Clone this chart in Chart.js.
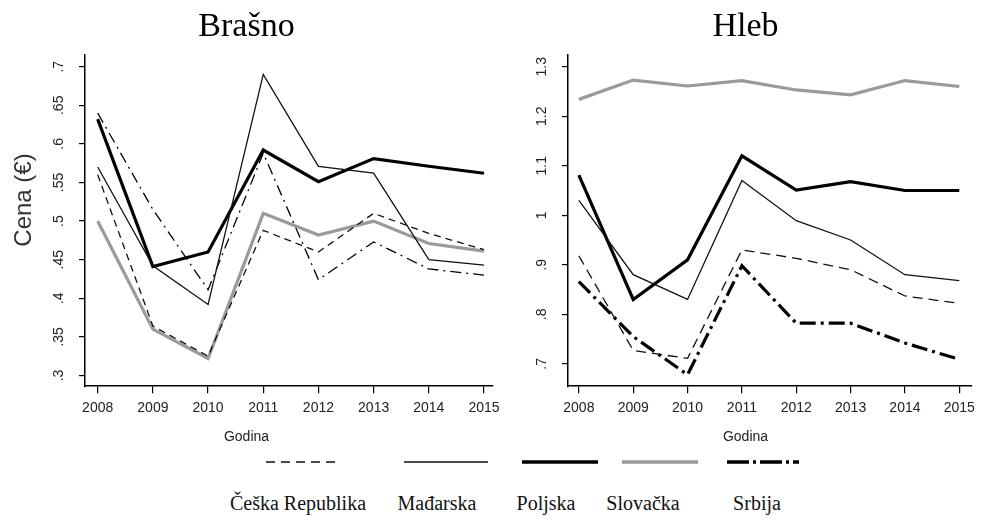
<!DOCTYPE html>
<html>
<head>
<meta charset="utf-8">
<script src="https://cdn.jsdelivr.net/npm/chart.js@4.4.0/dist/chart.umd.min.js"></script>
<style>
  body { margin: 0; background: #fff; width: 988px; height: 525px; overflow: hidden; position: relative; }
  canvas { position: absolute; top: 0; }
  #brasnoChart { left: 0; }
  #hlebChart { left: 514px; }
  .ylab { position: absolute; left: -37px; top: 186px; width: 120px; text-align: center;
          font-family: 'Liberation Sans', Arial, sans-serif; font-size: 24px; line-height: 28px;
          color: #333; transform: rotate(-90deg); }
  .lg-line { position: absolute; top: 455px; }
  .lg-text { position: absolute; top: 492px; transform: translateX(-50%); white-space: nowrap;
             font-family: 'Liberation Serif', 'Times New Roman', serif; font-size: 20px; color: #111; }
</style>
</head>
<body>
<canvas id="brasnoChart" width="524" height="450"></canvas>
<canvas id="hlebChart" width="468" height="450"></canvas>
<div class="ylab">Cena (€)</div>

<svg class="lg-line" style="left:264px" width="78" height="14"><line x1="2" y1="7" x2="76" y2="7" stroke="#111" stroke-width="1.5" stroke-dasharray="9,6"/></svg>
<svg class="lg-line" style="left:402px" width="88" height="14"><line x1="2" y1="7" x2="86" y2="7" stroke="#111" stroke-width="1.5"/></svg>
<svg class="lg-line" style="left:520px" width="80" height="14"><line x1="2" y1="7" x2="78" y2="7" stroke="#000" stroke-width="3.5"/></svg>
<svg class="lg-line" style="left:620px" width="80" height="14"><line x1="2" y1="7" x2="78" y2="7" stroke="#999" stroke-width="3.5"/></svg>
<svg class="lg-line" style="left:725px" width="76" height="14"><line x1="2" y1="7" x2="74" y2="7" stroke="#000" stroke-width="3.5" stroke-dasharray="22,4,3,4"/></svg>

<div class="lg-text" style="left:298px">Češka Republika</div>
<div class="lg-text" style="left:437px">Mađarska</div>
<div class="lg-text" style="left:546px">Poljska</div>
<div class="lg-text" style="left:643px">Slovačka</div>
<div class="lg-text" style="left:757px">Srbija</div>

<script>
const years = [2008, 2009, 2010, 2011, 2012, 2013, 2014, 2015];

// Brašno (flour), € per unit
const brasnoCeska     = [0.560, 0.364, 0.325, 0.488, 0.460, 0.510, 0.484, 0.463];
const brasnoMadjarska = [0.570, 0.442, 0.392, 0.690, 0.571, 0.562, 0.450, 0.443];
const brasnoPoljska   = [0.632, 0.441, 0.460, 0.592, 0.551, 0.581, 0.571, 0.562];
const brasnoSlovacka  = [0.500, 0.360, 0.322, 0.510, 0.482, 0.500, 0.471, 0.461];
const brasnoSrbija    = [0.640, 0.515, 0.411, 0.588, 0.424, 0.473, 0.438, 0.430];

// Hleb (bread)
const hlebCeska     = [0.918, 0.727, 0.711, 0.930, 0.913, 0.890, 0.837, 0.822];
const hlebMadjarska = [1.030, 0.880, 0.830, 1.070, 0.989, 0.950, 0.880, 0.868];
const hlebPoljska   = [1.081, 0.830, 0.910, 1.120, 1.051, 1.068, 1.050, 1.050];
const hlebSlovacka  = [1.234, 1.273, 1.261, 1.272, 1.253, 1.243, 1.272, 1.260];
const hlebSrbija    = [0.866, 0.755, 0.678, 0.898, 0.782, 0.782, 0.742, 0.709];

const brasnoTicks = [0.3, 0.35, 0.4, 0.45, 0.5, 0.55, 0.6, 0.65, 0.7];
const brasnoTickLabels = ['.3', '.35', '.4', '.45', '.5', '.55', '.6', '.65', '.7'];
const hlebTicks = [0.7, 0.8, 0.9, 1.0, 1.1, 1.2, 1.3];
const hlebTickLabels = ['.7', '.8', '.9', '1', '1.1', '1.2', '1.3'];

const sansFont = "'Liberation Sans', Arial, sans-serif";
const serifFont = "'Liberation Serif', 'Times New Roman', serif";

function points(values) {
    return years.map((yr, i) => ({ x: yr, y: values[i] }));
}

function makeDatasets(ceska, madjarska, poljska, slovacka, srbija, srbijaWidth, dash) {
    return [
        { label: 'Češka Republika', data: points(ceska), borderColor: '#111', borderWidth: 1.3, borderDash: dash },
        { label: 'Mađarska', data: points(madjarska), borderColor: '#111', borderWidth: 1.3 },
        { label: 'Poljska', data: points(poljska), borderColor: '#000', borderWidth: 3.2 },
        { label: 'Slovačka', data: points(slovacka), borderColor: '#9a9a9a', borderWidth: 3.2 },
        { label: 'Srbija', data: points(srbija), borderColor: '#000', borderWidth: srbijaWidth,
          borderDash: srbijaWidth > 2 ? [16, 5, 3, 5] : [11, 5, 2, 5] },
    ];
}

function renderPanel(id, title, datasets, yTicks, yLabels, yMin, yMax, xMin, xMax, yWidth, padRight) {
    const ctx = document.getElementById(id).getContext('2d');
    return new Chart(ctx, {
        type: 'line',
        data: { datasets: datasets },
        options: {
            responsive: false,
            animation: false,
            layout: { padding: { left: 0, right: padRight, top: 0, bottom: 0 } },
            elements: { point: { radius: 0 }, line: { tension: 0, fill: false } },
            plugins: {
                legend: { display: false },
                tooltip: { enabled: false },
                title: {
                    display: true, text: title, color: '#000',
                    font: { family: serifFont, size: 34, weight: 'normal' },
                    padding: { top: 7, bottom: 7 }
                },
                subtitle: {
                    display: true, position: 'bottom', text: 'Godina', color: '#222',
                    font: { family: sansFont, size: 14 },
                    padding: { top: 12, bottom: 4 }
                }
            },
            scales: {
                x: {
                    type: 'linear', min: xMin, max: xMax,
                    afterBuildTicks: s => { s.ticks = years.map(v => ({ value: v })); },
                    afterFit: s => { s.height = 31; },
                    ticks: { callback: v => String(v), color: '#222', padding: 7, maxRotation: 0,
                             autoSkip: false, font: { family: sansFont, size: 14 } },
                    grid: { drawOnChartArea: false, tickLength: 7, color: '#000', lineWidth: 1.2 },
                    border: { display: true, color: '#000', width: 1.5 }
                },
                y: {
                    type: 'linear', min: yMin, max: yMax,
                    afterBuildTicks: s => { s.ticks = yTicks.map(v => ({ value: v })); },
                    afterFit: s => { s.width = yWidth; },
                    ticks: { callback: (v, i) => yLabels[i], color: '#222', padding: 10,
                             minRotation: 90, maxRotation: 90, crossAlign: 'center',
                             font: { family: sansFont, size: 14 } },
                    grid: { drawOnChartArea: false, tickLength: 6, color: '#000', lineWidth: 1.2 },
                    border: { display: true, color: '#000', width: 1.5 }
                }
            }
        }
    });
}

renderPanel('brasnoChart', 'Brašno',
    makeDatasets(brasnoCeska, brasnoMadjarska, brasnoPoljska, brasnoSlovacka, brasnoSrbija, 1.3, [7, 5]),
    brasnoTicks, brasnoTickLabels, 0.2861, 0.7154, 2007.77, 2015.163, 85, 31);

renderPanel('hlebChart', 'Hleb',
    makeDatasets(hlebCeska, hlebMadjarska, hlebPoljska, hlebSlovacka, hlebSrbija, 3.2, [10, 6]),
    hlebTicks, hlebTickLabels, 0.6548, 1.324, 2007.80, 2015.218, 54, 5);
</script>
</body>
</html>
